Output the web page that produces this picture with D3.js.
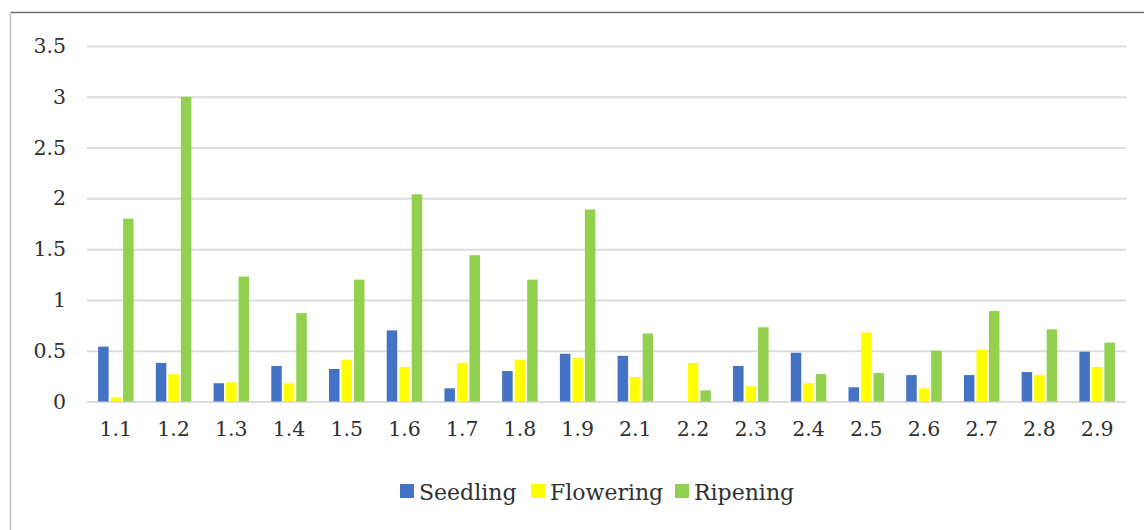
<!DOCTYPE html>
<html>
<head>
<meta charset="utf-8">
<script src="https://cdn.jsdelivr.net/npm/d3@7"></script>
<style>
  body { margin: 0; background: #fff; }
  #chart text { font-family: "DejaVu Serif", serif; fill: #303030; }
</style>
</head>
<body>
<div id="chart"></div>
<script>
// data
const categories = ["1.1","1.2","1.3","1.4","1.5","1.6","1.7","1.8","1.9","2.1","2.2","2.3","2.4","2.5","2.6","2.7","2.8","2.9"];
const seriesNames = ["Seedling", "Flowering", "Ripening"];
const seedling  = [0.54,0.38,0.18,0.35,0.32,0.70,0.13,0.30,0.47,0.45,0.00,0.35,0.48,0.14,0.26,0.26,0.29,0.49];
const flowering = [0.04,0.27,0.19,0.18,0.41,0.34,0.38,0.41,0.43,0.24,0.38,0.15,0.18,0.68,0.13,0.51,0.26,0.34];
const ripening  = [1.80,3.00,1.23,0.87,1.20,2.04,1.44,1.20,1.89,0.67,0.11,0.73,0.27,0.28,0.50,0.89,0.71,0.58];
const yTicks = [0, 0.5, 1, 1.5, 2, 2.5, 3, 3.5];
const colors = ["#4472C4", "#FFFF00", "#92D050"];

const W = 1144, H = 530;
const margin = {top: 46, right: 18, bottom: 128.5, left: 87};
const width = W - margin.left - margin.right,
      height = H - margin.top - margin.bottom;

const table = categories.map((c, i) => ({cat: c, vals: [seedling[i], flowering[i], ripening[i]]}));

const root = d3.select("#chart").append("svg")
    .attr("width", W)
    .attr("height", H);

// outer frame (only top and left edges are in view)
root.append("line")
    .attr("x1", 10.5).attr("x2", W).attr("y1", 12.5).attr("y2", 12.5)
    .attr("stroke", "#6e6e6e").attr("stroke-width", 1.5);
root.append("line")
    .attr("x1", 10.5).attr("x2", 10.5).attr("y1", 12.5).attr("y2", H)
    .attr("stroke", "#c4c4c4").attr("stroke-width", 1.5);

const svg = root.append("g")
    .attr("transform", `translate(${margin.left},${margin.top})`);

const y = d3.scaleLinear().domain([0, 3.5]).range([height, 0]);
const x0 = d3.scaleBand().domain(categories).range([0, width])
    .paddingInner(0.35).paddingOuter(0.175);
const x1 = d3.scaleBand().domain(d3.range(seriesNames.length)).range([0, x0.bandwidth()]);

// gridlines + y labels
const yAxis = svg.append("g")
    .call(d3.axisLeft(y).tickValues(yTicks).tickSize(-width).tickPadding(21)
      .tickFormat(d => d));
yAxis.select(".domain").remove();
yAxis.selectAll("line").attr("stroke", "#dcdcdc").attr("stroke-width", 2);
yAxis.selectAll("text").style("font-size", "20.5px");

// x labels
const xAxis = svg.append("g")
    .attr("transform", `translate(0,${height})`)
    .call(d3.axisBottom(x0).tickSize(0).tickPadding(20));
xAxis.select(".domain").remove();
xAxis.selectAll("text").style("font-size", "20.5px");

// bars
svg.append("g")
  .selectAll("g")
  .data(table)
  .join("g")
    .attr("transform", d => `translate(${x0(d.cat)},0)`)
  .selectAll("rect")
  .data(d => d.vals.map((v, k) => ({k, v})))
  .join("rect")
    .attr("x", d => x1(d.k) + 1)
    .attr("width", x1.bandwidth() - 2)
    .attr("y", d => y(d.v))
    .attr("height", d => height - y(d.v))
    .attr("fill", d => colors[d.k]);

// legend
const legend = root.append("g").attr("transform", "translate(400,484)");
const offsets = [0, 131, 275];
seriesNames.forEach((name, k) => {
  const g = legend.append("g").attr("transform", `translate(${offsets[k]},0)`);
  g.append("rect").attr("width", 14).attr("height", 14).attr("fill", colors[k]);
  g.append("text").attr("x", 19).attr("y", 16).style("font-size", "22px").text(name);
});
</script>
</body>
</html>
